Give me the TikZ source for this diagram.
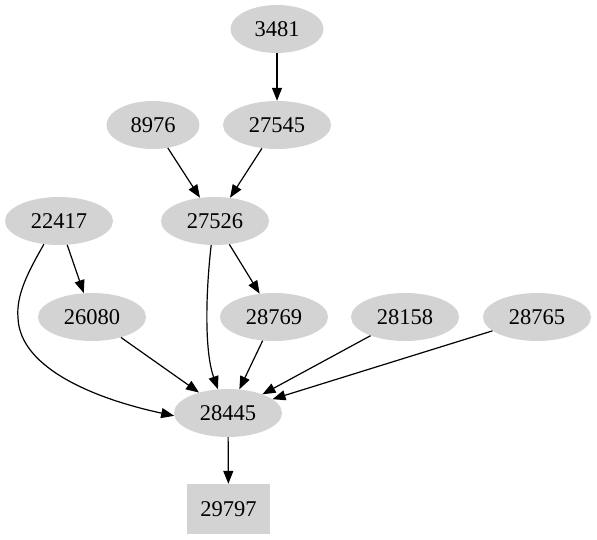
\documentclass[tikz,border=0pt]{standalone}
\usepackage{fontspec}
\setmainfont{Liberation Serif}
\usetikzlibrary{arrows.meta,shapes.geometric}
\definecolor{nodegray}{HTML}{D3D3D3}
\tikzset{
  vert/.style={ellipse, fill=nodegray, inner sep=0pt, minimum width=108pt, minimum height=48pt, font=\fontsize{22.5}{27}\selectfont},
  vertsmall/.style={vert, minimum width=93pt},
  sinkbox/.style={rectangle, fill=nodegray, inner sep=0pt, minimum width=83pt, minimum height=50pt, font=\fontsize{22.5}{27}\selectfont},
  edge/.style={-{Triangle[length=13pt,width=10pt]}, line width=1.2pt}
}
\begin{document}
\begin{tikzpicture}[x=1pt,y=-1pt]
    \useasboundingbox (0,0) rectangle (597,539);

    % 顶层
    \node[vertsmall] (n3481) at (277,29) {3481};
    \node[vertsmall] (n8976) at (153,125) {8976};
    \node[vert] (n27545) at (277,125) {27545};

    % 中间层
    \node[vert] (n22417) at (59,221) {22417};
    \node[vert] (n27526) at (215,221) {27526};
    \node[vert] (n26080) at (92,317) {26080};
    \node[vert] (n28769) at (274,317) {28769};
    \node[vert] (n28158) at (405,317) {28158};
    \node[vert] (n28765) at (537,317) {28765};

    % 汇点
    \node[vert] (n28445) at (228,413) {28445};
    \node[sinkbox] (n29797) at (228.5,509) {29797};

    % 边
    \draw[edge] (n3481) -- (n27545);
    \draw[edge] (n8976) -- (n27526);
    \draw[edge] (n27545) -- (n27526);
    \draw[edge] (n22417) -- (n26080);
    \draw[edge] (n27526) -- (n28769);
    \draw[edge] (n26080) -- (n28445);
    \draw[edge] (n28769) -- (n28445);
    \draw[edge] (n28158) -- (n28445);
    \draw[edge] (n28765) -- (n28445);
    \draw[edge] (n28445) -- (n29797);

    % 弯曲的边
    \draw[edge] (n22417.237) .. controls (28,272) and (16,295) .. (18,318)
        .. controls (20,370) and (100,400) .. (n28445.183);
    \draw[edge] (n27526.261) .. controls (206,290) and (204,350) .. (n28445.113);
\end{tikzpicture}
\end{document}
